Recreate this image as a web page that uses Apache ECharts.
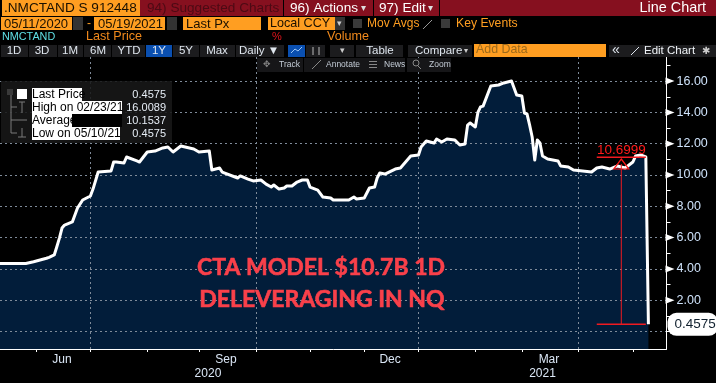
<!DOCTYPE html>
<html>
<head>
<meta charset="utf-8">
<style>html,body{margin:0;padding:0;background:#000}#chart{width:716px;height:383px}</style>
<script src="https://cdn.jsdelivr.net/npm/echarts@6/dist/echarts.min.js"></script>
</head>
<body>
<div id="chart"></div>
<script>
// trading session number since 05/11/2020, and price
const sessions = [0,10,13,18,19,21,22,23,24,25,28,30,32,35,36,38,43,44,45,48,49,53,54,57,60,63,65,67,70,75,77,81,82,85,86,92,
  93,96,98,101,103,105,106,108,110,111,113,115,117,119,120,123,125,128,129,135,137,138,141,143,145,146,147,149,153,155,157,159,162,163,165,168,169,171,173,176,178,180,181,182,184,185,186,187,190,193,195,198,
  200,202,203,204,205,206,207,208,209,210,212,216,217,220,222,229,231,233,236,239,242,245,246,248,250,251]
const prices = [4.35,4.35,4.46,4.68,4.74,4.89,5.42,5.97,6.61,6.8,7.0,7.89,8.4,8.66,9.1,10.19,10.26,10.83,10.83,10.77,11.15,10.9,10.83,11.47,11.53,11.73,11.79,11.47,11.85,11.66,11.47,11.53,10.32,10.45,10.19,9.81,
  9.94,9.74,9.62,9.68,9.42,9.23,9.36,9.1,9.17,9.3,9.3,9.55,9.68,9.68,9.23,9.04,8.59,8.53,8.4,8.4,8.59,8.47,8.53,9.17,9.23,9.81,10.13,10.06,10.38,10.45,10.83,11.21,11.28,11.79,12.17,12.04,12.3,12.11,12.3,12.24,11.92,11.98,13.19,13.32,13.07,14.0,14.35,14.4,15.69,15.75,15.88,16.0089,
  15.11,15.05,13.96,13.9,13.2,12.43,10.96,12.24,12.04,11.21,11.02,10.9,10.58,10.51,10.32,10.19,10.45,10.51,10.38,10.58,10.45,10.83,11.21,11.28,11.15,0.4575]

const monthStarts = [14,35,57,77,99,120,141,162,184,202,224,245]
const quarterStarts = [35,99,162,224]
const monthLabels = { 24: 'Jun', 87.5: 'Sep', 151: 'Dec', 212.5: 'Mar' }
const yearLabels = { 80.5: '2020', 210: '2021' }
const yLabelValues = [0,2,4,6,8,10,12,14,16]
const yMinorValues = [0,1,2,3,4,5,6,7,8,9,10,11,12,13,14,15,16,17]

const lastPrice = 0.4575
const xMax = 258
const yMin = -1.118
const yMax = 17.54
const annoLeft = 231, annoRight = 250, annoMid = 240.5, annoTop = 11.13, annoValue = 10.6999

const sansFont = '"Liberation Sans", Arial, sans-serif'
const orange = '#ff9e21'
const darkRed = '#86101f'
const btnGray = '#1c1c1e'
const tickBlue = '#cfe3fb'

const box = (x, y, width, height, fill) => ({ type: 'rect', shape: { x, y, width, height }, style: { fill } })
const label = (x, y, text, fill, size = 13, align = 'left') => ({
  type: 'text', x, y,
  style: { text, fill, font: size + 'px ' + sansFont, align, verticalAlign: 'middle' }
})
const seg = (x1, y1, x2, y2, stroke = '#7b7b7b') => ({ type: 'line', shape: { x1, y1, x2, y2 }, style: { stroke, lineWidth: 1 } })
const headline = (x, y, text) => ({
  type: 'text', x, y,
  style: { text, fill: '#f9404a', stroke: '#f9404a', lineWidth: 0.6, font: 'bold 23px Lato, sans-serif', align: 'center', verticalAlign: 'middle' }
})

const graphics = [
  // top red bar
  box(0, 0, 716, 16, darkRed),
  box(0, 0, 2, 16, '#000'),
  box(2, 0, 138, 16, orange),
  label(4, 8, '.NMCTAND S 912448', '#1a1000', 13.6),
  label(147, 8, '94) Suggested Charts', '#4c0a14', 13.6),
  box(283, 0, 1, 16, '#000'),
  label(290, 8, '96) Actions', '#fff', 13.6),
  label(361, 8, '▾', '#ddd', 10),
  box(373, 0, 1, 16, '#000'),
  label(379, 8, '97) Edit', '#fff', 13.6),
  label(428, 8, '▾', '#ddd', 10),
  box(439, 0, 1, 16, '#000'),
  label(706, 8, 'Line Chart', '#fff', 14.4, 'right'),

  // dates row
  box(1, 17, 71, 13, orange),
  label(4, 24, '05/11/2020', '#1a1000', 13),
  box(73, 17, 10, 13, '#333'),
  label(87, 24, '-', orange, 12),
  box(94, 17, 71, 13, orange),
  label(98, 24, '05/19/2021', '#1a1000', 13),
  box(167, 17, 10, 13, '#333'),
  box(183, 17, 78, 13, orange),
  label(186, 24, 'Last Px', '#1a1000', 13),
  box(268, 17, 67, 13, orange),
  label(270, 24, 'Local CCY', '#1a1000', 12.6),
  box(335, 17, 10, 13, '#333'),
  label(337, 24, '▾', '#ccc', 9),
  box(353, 19, 9, 9, '#3a3a3a'),
  label(367, 24, 'Mov Avgs', orange, 12),
  seg(423, 29, 432, 20, '#999'),
  box(441, 19, 9, 9, '#3a3a3a'),
  label(456, 24, 'Key Events', orange, 12.2),

  // series row
  label(2, 37, 'NMCTAND', '#5fe0e6', 10.8),
  label(86, 37, 'Last Price', '#f28a1c', 12.6),
  label(272, 37, '%', '#e0141c', 11),
  label(327, 37, 'Volume', '#f28a1c', 12.6),

  // range buttons
  box(1, 45, 27, 12, btnGray), label(14, 51, '1D', '#dfe6ee', 11.5, 'center'),
  box(29, 45, 28, 12, btnGray), label(42, 51, '3D', '#dfe6ee', 11.5, 'center'),
  box(58, 45, 25, 12, btnGray), label(70, 51, '1M', '#dfe6ee', 11.5, 'center'),
  box(84, 45, 27, 12, btnGray), label(98, 51, '6M', '#dfe6ee', 11.5, 'center'),
  box(112, 45, 33, 12, btnGray), label(129, 51, 'YTD', '#dfe6ee', 11.5, 'center'),
  box(146, 45, 26, 12, '#0a4fb0'), label(159, 51, '1Y', '#dfe6ee', 11.5, 'center'),
  box(173, 45, 26, 12, btnGray), label(186, 51, '5Y', '#dfe6ee', 11.5, 'center'),
  box(200, 45, 35, 12, btnGray), label(217, 51, 'Max', '#dfe6ee', 11.5, 'center'),
  box(236, 45, 48, 12, btnGray), label(239, 51, 'Daily ▼', '#dfe6ee', 11.5),
  box(288, 45, 17, 12, '#0a4fb0'),
  { type: 'polyline', shape: { points: [[291, 53], [295, 49], [298, 51], [302, 47]] }, style: { stroke: '#9cc6f5', lineWidth: 1, fill: null } },
  box(306, 45, 19, 12, btnGray),
  seg(313, 47, 313, 55, '#bbb'), seg(319, 47, 319, 55, '#bbb'),
  box(330, 45, 24, 12, btnGray), label(342, 51, '▾', '#ccc', 9, 'center'),
  box(356, 45, 47, 12, btnGray), label(380, 51, 'Table', '#dfe6ee', 11.5, 'center'),
  box(408, 45, 64, 12, btnGray), label(415, 51, 'Compare', '#dfe6ee', 11.5),
  label(464, 51, '▾', '#ccc', 8),
  box(474, 44, 132, 13, orange),
  label(476, 50, 'Add Data', '#9c6a1c', 12.4),
  box(609, 45, 107, 12, btnGray),
  label(612, 50, '«', '#dfe6ee', 14),
  seg(631, 55, 639, 47, '#dfe6ee'),
  label(644, 51, 'Edit Chart', '#f0f4f8', 11.5),
  label(706, 51, '✱', '#ccc', 10, 'center'),

  // track / annotate row
  box(257, 58, 46, 14, '#161618'),
  label(267, 65, '✥', '#888', 9, 'center'), label(279, 65, 'Track', '#c4ccd6', 8.5),
  box(304, 58, 66, 14, '#161618'),
  seg(312, 69, 321, 60, '#888'), label(326, 65, 'Annotate', '#c4ccd6', 8.5),
  box(361, 58, 44, 14, '#161618'),
  box(369, 61, 8, 1, '#888'), box(369, 64, 8, 1, '#888'), box(369, 67, 8, 1, '#888'),
  label(384, 65, 'News', '#c4ccd6', 8.5),
  box(407, 58, 44, 14, '#161618'),
  { type: 'circle', shape: { cx: 416, cy: 63, r: 3 }, style: { stroke: '#888', fill: null } },
  seg(418, 66, 421, 69, '#888'), label(429, 65, 'Zoom', '#c4ccd6', 8.5),

  // legend panel
  box(1, 81, 171, 62, 'rgba(24,24,24,0.88)'),
  box(7, 89, 6, 6, '#3a3a3a'),
  box(17, 89, 10, 10, '#fff'),
  seg(11, 95, 11, 133), seg(11, 107, 17, 107), seg(11, 120, 17, 120), seg(11, 133, 17, 133),
  seg(22, 102, 22, 113), seg(19, 102, 25, 102), seg(17, 120, 27, 120), seg(22, 128, 22, 137), seg(18, 137, 26, 137),
  box(32, 88, 50, 13, '#fff'), label(32, 94.5, 'Last Price', '#000', 12),
  box(32, 101, 90, 13, '#fff'), label(32, 107.5, 'High on 02/23/21', '#000', 12),
  box(72, 114, 50, 13, '#000'),
  box(32, 114, 40, 13, '#fff'), label(32, 120.5, 'Average', '#000', 12),
  box(32, 127, 88, 13, '#fff'), label(32, 133.5, 'Low on 05/10/21', '#000', 12),
  label(166, 94.5, '0.4575', '#e6edf5', 11, 'right'),
  label(166, 107.5, '16.0089', '#e6edf5', 11, 'right'),
  label(166, 120.5, '10.1537', '#e6edf5', 11, 'right'),
  label(166, 133.5, '0.4575', '#e6edf5', 11, 'right'),

  // pasted headline
  headline(321, 268, 'CTA MODEL $10.7B 1D'),
  headline(322, 300, 'DELEVERAGING IN NQ')
].map(el => ({ ...el, z: 20 }))

const seriesData = sessions.map((s, i) => [s, prices[i]])
const annoLine = (data, width) => ({
  type: 'line', data, symbol: 'none', z: 6, silent: true,
  lineStyle: { color: '#f01a20', width }
})

const option = {
  backgroundColor: '#000',
  animation: false,
  grid: { left: 0, right: 49.5, top: 57, bottom: 34 },
  xAxis: [
    {
      type: 'value', min: 0, max: xMax, position: 'bottom', z: 3,
      axisLine: { onZero: false, lineStyle: { color: '#fff', width: 1 } },
      axisTick: { show: true, length: 3, customValues: monthStarts, lineStyle: { color: '#fff' } },
      axisLabel: {
        color: '#dbe7f6', fontSize: 12, fontFamily: sansFont, margin: 5,
        customValues: Object.keys(monthLabels).map(Number),
        formatter: v => monthLabels[v] || ''
      },
      splitLine: { show: false }
    },
    {
      type: 'value', min: 0, max: xMax, position: 'bottom', z: 2,
      axisLine: { show: false, onZero: false },
      axisTick: { show: false, customValues: quarterStarts },
      axisLabel: {
        color: '#dbe7f6', fontSize: 12, fontFamily: sansFont, margin: 19,
        customValues: Object.keys(yearLabels).map(Number),
        formatter: v => yearLabels[v] || ''
      },
      splitLine: { show: true, lineStyle: { color: '#7f8b99', type: [2, 3], width: 1 } }
    }
  ],
  yAxis: [
    {
      type: 'value', min: yMin, max: yMax, position: 'right', z: 3,
      axisLine: { show: true, onZero: false, lineStyle: { color: '#fff', width: 1 } },
      axisTick: { show: true, length: 4, customValues: yMinorValues, lineStyle: { color: '#fff' } },
      axisLabel: {
        color: tickBlue, fontSize: 12.5, fontFamily: sansFont, margin: 10,
        customValues: yLabelValues,
        formatter: v => v.toFixed(2)
      },
      splitLine: { show: false }
    },
    {
      type: 'value', min: yMin, max: yMax, position: 'left', z: 2,
      axisLine: { show: false, onZero: false },
      axisTick: { show: false, customValues: yLabelValues },
      axisLabel: { show: false },
      splitLine: { show: true, lineStyle: { color: '#7f8b99', type: [2, 3], width: 1 } }
    }
  ],
  series: [
    {
      type: 'line', data: seriesData, symbol: 'none', z: 1, silent: true,
      lineStyle: { width: 0 },
      areaStyle: { color: '#021d3a', origin: 'start', opacity: 1 }
    },
    {
      type: 'line', data: seriesData, symbol: 'none', z: 5, silent: true,
      lineStyle: { color: '#fff', width: 3, join: 'round' }
    },
    // major tick arrows on the price axis
    {
      type: 'scatter', data: yLabelValues.slice(1).map(v => [xMax, v]), z: 7, clip: false, silent: true,
      symbol: 'triangle', symbolSize: [7, 9], symbolRotate: -90, symbolOffset: [3.5, 0],
      itemStyle: { color: '#fff', opacity: 1 }
    },
    // fib style marker
    annoLine([[annoLeft, annoTop], [annoRight, annoTop]], 1.5),
    annoLine([[annoLeft, lastPrice], [annoRight, lastPrice]], 1.5),
    annoLine([[annoMid, annoValue], [annoMid, lastPrice]], 1),
    {
      type: 'scatter', data: [[annoMid, annoValue]], z: 7, silent: true,
      symbol: 'triangle', symbolSize: [15, 10],
      itemStyle: { color: 'rgba(0,0,0,0)', borderColor: '#ff1a1a', borderWidth: 1.2, opacity: 1 },
      label: {
        show: true, formatter: annoValue.toFixed(4), color: '#ff1a1a', fontSize: 13.5, fontFamily: sansFont,
        position: 'top', distance: 1
      }
    },
    // last price pill
    {
      type: 'scatter', data: [[xMax, lastPrice]], z: 9, clip: false, silent: true,
      symbolSize: 0,
      itemStyle: { opacity: 1 },
      label: {
        show: true, position: 'right', distance: 1, formatter: lastPrice.toFixed(4),
        color: '#10202e', fontSize: 13.5, fontFamily: sansFont,
        backgroundColor: '#fff', borderRadius: 9, padding: [5, 2, 4, 7]
      }
    }
  ],
  graphic: graphics
}

const chart = echarts.init(document.getElementById('chart'), null, { renderer: 'canvas' })
chart.setOption(option)
</script>
</body>
</html>
